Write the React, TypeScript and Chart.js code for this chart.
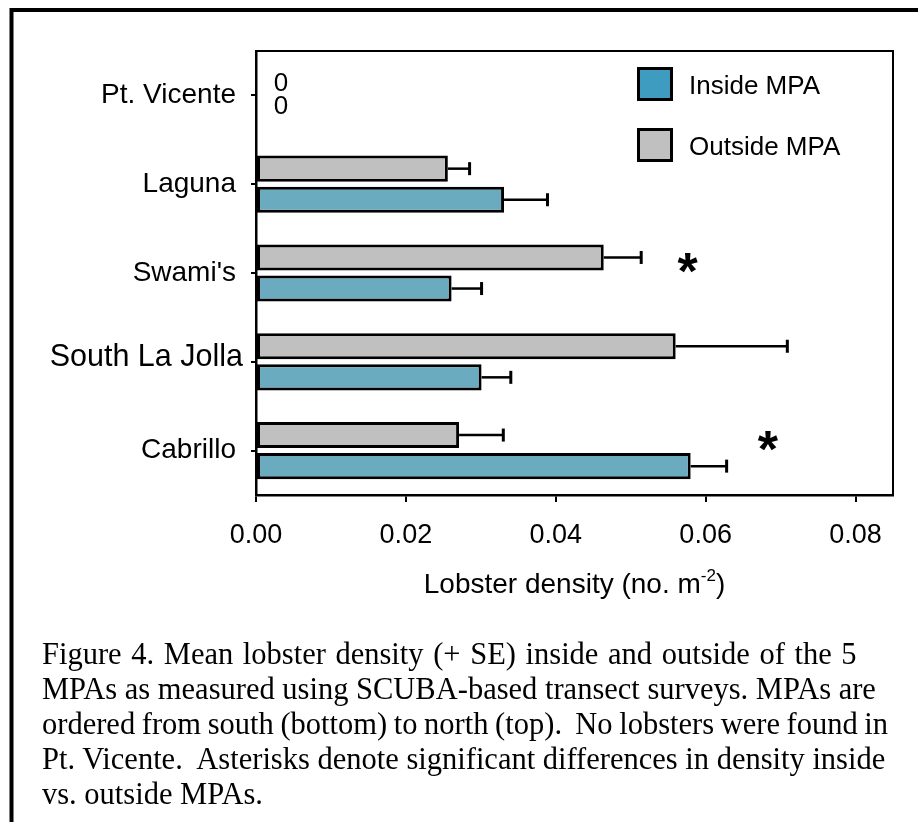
import React, { useEffect, useRef } from "react";
import { Chart, registerables } from "chart.js";

Chart.register(...registerables);

// ---- data ----
const sites = ["Pt. Vicente", "Laguna", "Swami's", "South La Jolla", "Cabrillo"];
const insideMean = [0, 0.0331, 0.0261, 0.0301, 0.058];
const insideSE = [0, 0.0058, 0.004, 0.0039, 0.0048];
const outsideMean = [0, 0.0256, 0.0464, 0.056, 0.0271];
const outsideSE = [0, 0.0029, 0.005, 0.0149, 0.0059];
const xTickValues = [0, 0.02, 0.04, 0.06, 0.08];
const xMax = 0.085;
// asterisk anchors (data units) for significant inside vs outside differences
const significantAt = [null, null, 0.0576, null, 0.0683];
const legendLabels = ["Inside MPA", "Outside MPA"];
const xTitleMain = "Lobster density (no. m";
const xTitleSup = "-2";
const xTitleEnd = ")";
const captionLines = [
  "Figure 4. Mean lobster density (+ SE) inside and outside of the 5",
  "MPAs as measured using SCUBA-based transect surveys. MPAs are",
  "ordered from south (bottom) to north (top).  No lobsters were found in",
  "Pt. Vicente.  Asterisks denote significant differences in density inside",
  "vs. outside MPAs.",
];

const SANS = "'Liberation Sans', Arial, sans-serif";
const SERIF = "'Liberation Serif', 'Times New Roman', serif";
const BLUE_BAR = "#6aabc0";
const BLUE_LEGEND = "#3e9cc1";
const GRAY = "#c0c0c0";

// per-label text style for the category axis (size, shift x, shift y)
const yLabelStyle = [
  { size: 28, dx: 0, dy: 0 },
  { size: 28, dx: 0, dy: 0 },
  { size: 28, dx: 0, dy: 0 },
  { size: 30.5, dx: 7, dy: -4 },
  { size: 28, dx: 0, dy: 0 },
];
const captionWordSpacing = [2, 0, -1, 0, 0];

const decorPlugin = {
  id: "decor",
  afterDatasetsDraw(chart: any) {
    const ctx = chart.ctx;
    const xs = chart.scales.x;
    const ys = chart.scales.y;
    const ses = [outsideSE, insideSE];
    ctx.save();
    // error bars
    chart.data.datasets.forEach((ds: any, di: number) => {
      const meta = chart.getDatasetMeta(di);
      meta.data.forEach((el: any, i: number) => {
        const v = ds.data[i];
        if (!v) return;
        const x0 = el.x;
        const x1 = xs.getPixelForValue(v + ses[di][i]);
        ctx.strokeStyle = "#000";
        ctx.lineWidth = 2.5;
        ctx.beginPath();
        ctx.moveTo(x0, el.y);
        ctx.lineTo(x1, el.y);
        ctx.stroke();
        ctx.lineWidth = 3;
        ctx.beginPath();
        ctx.moveTo(x1, el.y - 6.5);
        ctx.lineTo(x1, el.y + 6.5);
        ctx.stroke();
      });
    });
    // zero labels
    ctx.fillStyle = "#000";
    ctx.font = `26px ${SANS}`;
    ctx.textAlign = "center";
    ctx.textBaseline = "middle";
    chart.data.datasets.forEach((ds: any, di: number) => {
      const meta = chart.getDatasetMeta(di);
      meta.data.forEach((el: any, i: number) => {
        if (ds.data[i] !== 0) return;
        const c = ys.getPixelForValue(i);
        const y = el.y + (c - el.y) * 0.28;
        ctx.fillText("0", xs.getPixelForValue(0) + 25, y);
      });
    });
    // asterisks
    ctx.font = `bold 52px ${SANS}`;
    ctx.textBaseline = "alphabetic";
    const m = ctx.measureText("*");
    const off = (m.actualBoundingBoxAscent - m.actualBoundingBoxDescent) / 2;
    significantAt.forEach((v, i) => {
      if (v == null) return;
      const cy = ys.getPixelForValue(i) - 10;
      ctx.fillText("*", xs.getPixelForValue(v), cy + off);
    });
    ctx.restore();
  },
  afterDraw(chart: any) {
    const ctx = chart.ctx;
    const a = chart.chartArea;
    const ys = chart.scales.y;
    ctx.save();
    // category labels
    ctx.fillStyle = "#000";
    ctx.textAlign = "right";
    ctx.textBaseline = "middle";
    sites.forEach((s, i) => {
      const st = yLabelStyle[i];
      ctx.font = `${st.size}px ${SANS}`;
      ctx.fillText(s, a.left - 20 + st.dx, ys.getPixelForValue(i) + st.dy);
    });
    // plot box top/right
    ctx.strokeStyle = "#000";
    ctx.lineWidth = 2;
    ctx.beginPath();
    ctx.moveTo(a.left, a.top);
    ctx.lineTo(a.right, a.top);
    ctx.lineTo(a.right, a.bottom);
    ctx.stroke();
    // legend
    const items = [
      { label: legendLabels[0], fill: BLUE_LEGEND },
      { label: legendLabels[1], fill: GRAY },
    ];
    items.forEach((it, k) => {
      const bx = a.left + 381;
      const by = a.top + 16 + k * 61;
      ctx.fillStyle = it.fill;
      ctx.fillRect(bx, by, 36, 34);
      ctx.lineWidth = 3;
      ctx.strokeStyle = "#000";
      ctx.strokeRect(bx + 1.5, by + 1.5, 33, 31);
      ctx.fillStyle = "#000";
      ctx.font = `26px ${SANS}`;
      ctx.textAlign = "left";
      ctx.textBaseline = "middle";
      ctx.fillText(it.label, bx + 52, by + 20);
    });
    // x axis title with superscript
    const mainFont = `28px ${SANS}`;
    const supFont = `17px ${SANS}`;
    ctx.font = mainFont;
    const w1 = ctx.measureText(xTitleMain).width;
    const w3 = ctx.measureText(xTitleEnd).width;
    ctx.font = supFont;
    const w2 = ctx.measureText(xTitleSup).width;
    const total = w1 + w2 + w3;
    let x = (a.left + a.right) / 2 - total / 2;
    const base = a.bottom + 98;
    ctx.textAlign = "left";
    ctx.textBaseline = "alphabetic";
    ctx.fillStyle = "#000";
    ctx.font = mainFont;
    ctx.fillText(xTitleMain, x, base);
    x += w1;
    ctx.font = supFont;
    ctx.fillText(xTitleSup, x, base - 12);
    x += w2;
    ctx.font = mainFont;
    ctx.fillText(xTitleEnd, x, base);
    // outer frame (left + top)
    ctx.lineWidth = 4;
    ctx.beginPath();
    ctx.moveTo(11.5, 822);
    ctx.lineTo(11.5, 10);
    ctx.lineTo(918, 10);
    ctx.stroke();
    ctx.restore();
  },
};

export default function App() {
  const ref = useRef<HTMLCanvasElement | null>(null);
  useEffect(() => {
    document.body.style.margin = "0";
    const canvas = ref.current!;
    const chart = new Chart(canvas, {
      type: "bar",
      data: {
        labels: sites,
        datasets: [
          {
            label: legendLabels[1],
            data: outsideMean,
            backgroundColor: GRAY,
            borderColor: "#000",
            borderWidth: 3,
            borderSkipped: false,
            barPercentage: 0.84,
            categoryPercentage: 0.7,
          },
          {
            label: legendLabels[0],
            data: insideMean,
            backgroundColor: BLUE_BAR,
            borderColor: "#000",
            borderWidth: 3,
            borderSkipped: false,
            barPercentage: 0.84,
            categoryPercentage: 0.7,
          },
        ],
      },
      options: {
        indexAxis: "y",
        responsive: false,
        animation: false,
        events: [],
        layout: { padding: { left: 0, top: 51, right: 25, bottom: 267 } },
        plugins: {
          legend: { display: false },
          tooltip: { enabled: false },
          title: { display: false },
        },
        scales: {
          x: {
            type: "linear",
            position: "bottom",
            min: 0,
            max: xMax,
            afterBuildTicks: (s: any) => {
              s.ticks = xTickValues.map((v) => ({ value: v }));
            },
            afterFit: (s: any) => {
              s.height = 60;
            },
            ticks: {
              callback: (v: any) => Number(v).toFixed(2),
              color: "#000",
              font: { family: SANS, size: 27 },
              padding: 17,
              maxRotation: 0,
              autoSkip: false,
            },
            grid: {
              drawOnChartArea: false,
              drawTicks: true,
              tickLength: 7,
              color: "#000",
              lineWidth: 2,
            },
            border: { display: true, color: "#000", width: 2.5 },
          },
          y: {
            type: "category",
            position: "left",
            afterFit: (s: any) => {
              s.width = 256;
            },
            ticks: {
              display: false,
              autoSkip: false,
            },
            grid: {
              offset: false,
              drawOnChartArea: false,
              drawTicks: true,
              tickLength: 5,
              color: "#000",
              lineWidth: 2,
            },
            border: { display: true, color: "#000", width: 2.5 },
          },
        },
      },
      plugins: [decorPlugin],
    } as any);
    return () => chart.destroy();
  }, []);

  return (
    <div
      style={{
        position: "fixed",
        left: 0,
        top: 0,
        width: 918,
        height: 822,
        overflow: "hidden",
        background: "#fff",
      }}
    >
      <canvas
        ref={ref}
        width={918}
        height={822}
        style={{ position: "absolute", left: 0, top: 0, width: 918, height: 822 }}
      />
      <div
        style={{
          position: "absolute",
          left: 42,
          top: 637,
          fontFamily: SERIF,
          fontSize: 30.5,
          lineHeight: "35px",
          color: "#000",
          whiteSpace: "pre",
        }}
      >
        {captionLines.map((l, i) => (
          <div key={i} style={{ wordSpacing: captionWordSpacing[i] }}>
            {l}
          </div>
        ))}
      </div>
    </div>
  );
}
